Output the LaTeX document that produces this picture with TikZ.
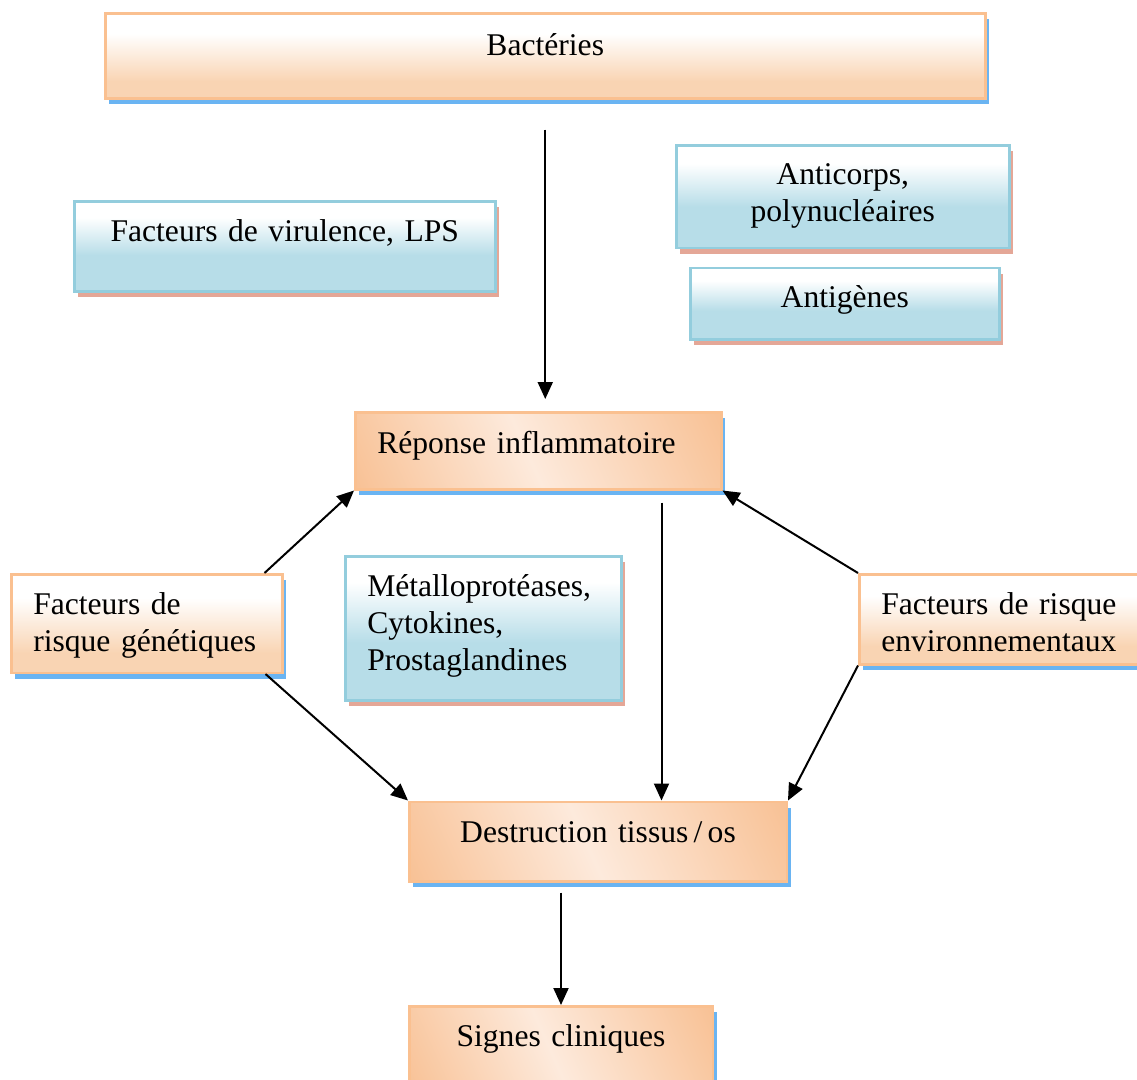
\documentclass[tikz,border=0pt]{standalone}
\usepackage{fontspec}
\setmainfont[WordSpace=0.8]{Liberation Serif}
\usetikzlibrary{arrows.meta,shadows,calc}

\definecolor{pborder}{HTML}{FAC090}
\definecolor{pfill}{HTML}{F9D4B3}
\definecolor{pdark}{HTML}{F8C093}
\definecolor{plight}{HTML}{FDEADC}
\definecolor{shblue}{HTML}{6AB4F2}
\definecolor{bborder}{HTML}{93CDDD}
\definecolor{bfill}{HTML}{B7DDE8}
\definecolor{shsalmon}{HTML}{E4A797}

% soft vertical fills and a diagonal peach fill
\pgfdeclareverticalshading{peachv}{100bp}{color(0bp)=(pfill); color(35bp)=(pfill); color(63bp)=(white); color(100bp)=(white)}
\pgfdeclareverticalshading{bluev}{100bp}{color(0bp)=(bfill); color(45bp)=(bfill); color(66bp)=(white); color(100bp)=(white)}
\pgfdeclarehorizontalshading{peachd}{100bp}{color(0bp)=(pdark); color(16bp)=(pdark); color(48bp)=(plight); color(84bp)=(pdark); color(100bp)=(pdark)}

\tikzset{
  boxbase/.style={rectangle, anchor=north west, inner xsep=22pt, inner ysep=0pt,
    line width=2.5pt, font=\fontsize{31.6}{37.3}\selectfont},
  sz/.style n args={3}{minimum width=#1, text width=#1-44pt, text height=#2, text depth=#3},
  orangev/.style={boxbase, draw=pborder, shade, shading=peachv,
    drop shadow={shadow xshift=4pt, shadow yshift=-6pt, fill=shblue, opacity=1}},
  oranged/.style={boxbase, draw=pborder, shade, shading=peachd, shading angle=24,
    drop shadow={shadow xshift=4pt, shadow yshift=-6pt, fill=shblue, opacity=1}},
  bluebox/.style={boxbase, draw=bborder, shade, shading=bluev,
    drop shadow={shadow xshift=4pt, shadow yshift=-6pt, fill=shsalmon, opacity=1}},
  arr/.style={line width=2pt, -{Triangle[length=17pt,width=15pt]}}
}

\begin{document}
\begin{tikzpicture}[x=1pt, y=-1pt]
\useasboundingbox (0,0) rectangle (1137,1079);
\fill[white] (0,0) rectangle (1137,1079);
\clip (0,0) rectangle (1137,1079);

% boxes
\node[orangev, sz={880pt}{42pt}{43pt}, align=center] (bact) at (104,12) {Bactéries};
\node[bluebox, sz={421pt}{40pt}{50pt}, align=center] (vir) at (73,200) {Facteurs de virulence, LPS};
\node[bluebox, sz={333pt}{39pt}{63.5pt}, align=center] (anti) at (675,144) {Anticorps,\\polynucléaires};
\node[bluebox, sz={309pt}{39.5pt}{32pt}, align=center] (antig) at (689,266.5) {Antigènes};
\node[oranged, sz={366pt}{41pt}{36pt}, align=left] (rep) at (354,411) {Réponse inflammatoire};
\node[bluebox, sz={276pt}{40pt}{104pt}, align=left] (met) at (344,555) {Métalloprotéases,\\Cytokines,\\Prostaglandines};
\node[orangev, sz={271pt}{40pt}{58.5pt}, align=left] (gen) at (10,573) {Facteurs de\\risque génétiques};
\node[orangev, sz={290pt}{40pt}{50pt}, align=left] (env) at (858,573) {Facteurs de risque\\environnementaux};
\node[oranged, sz={377.5pt}{41pt}{38.5pt}, align=center] (dest) at (408,800.5) {Destruction tissus\,/\,os};
\node[oranged, sz={303.5pt}{40pt}{50pt}, align=center] (sig) at (408,1005) {Signes cliniques};

% connectors
\draw[arr] ($(bact.south)+(0,30)$) -- ($(bact.south |- rep.north)+(0,-12)$);
\draw[arr] ($(gen.north east)+(-19,0)$) -- (rep.south west);
\draw[arr] ($(gen.south east)+(-18,0)$) -- (dest.north west);
\coordinate (rd) at ($(rep.south east)+(-61,12)$);
\draw[arr] (rd) -- (rd |- dest.north);
\draw[arr] (env.north west) -- (rep.south east);
\draw[arr] (env.south west) -- (dest.north east);
\draw[arr] ($(sig.north |- dest.south)+(0,10)$) -- (sig.north);
\end{tikzpicture}
\end{document}
